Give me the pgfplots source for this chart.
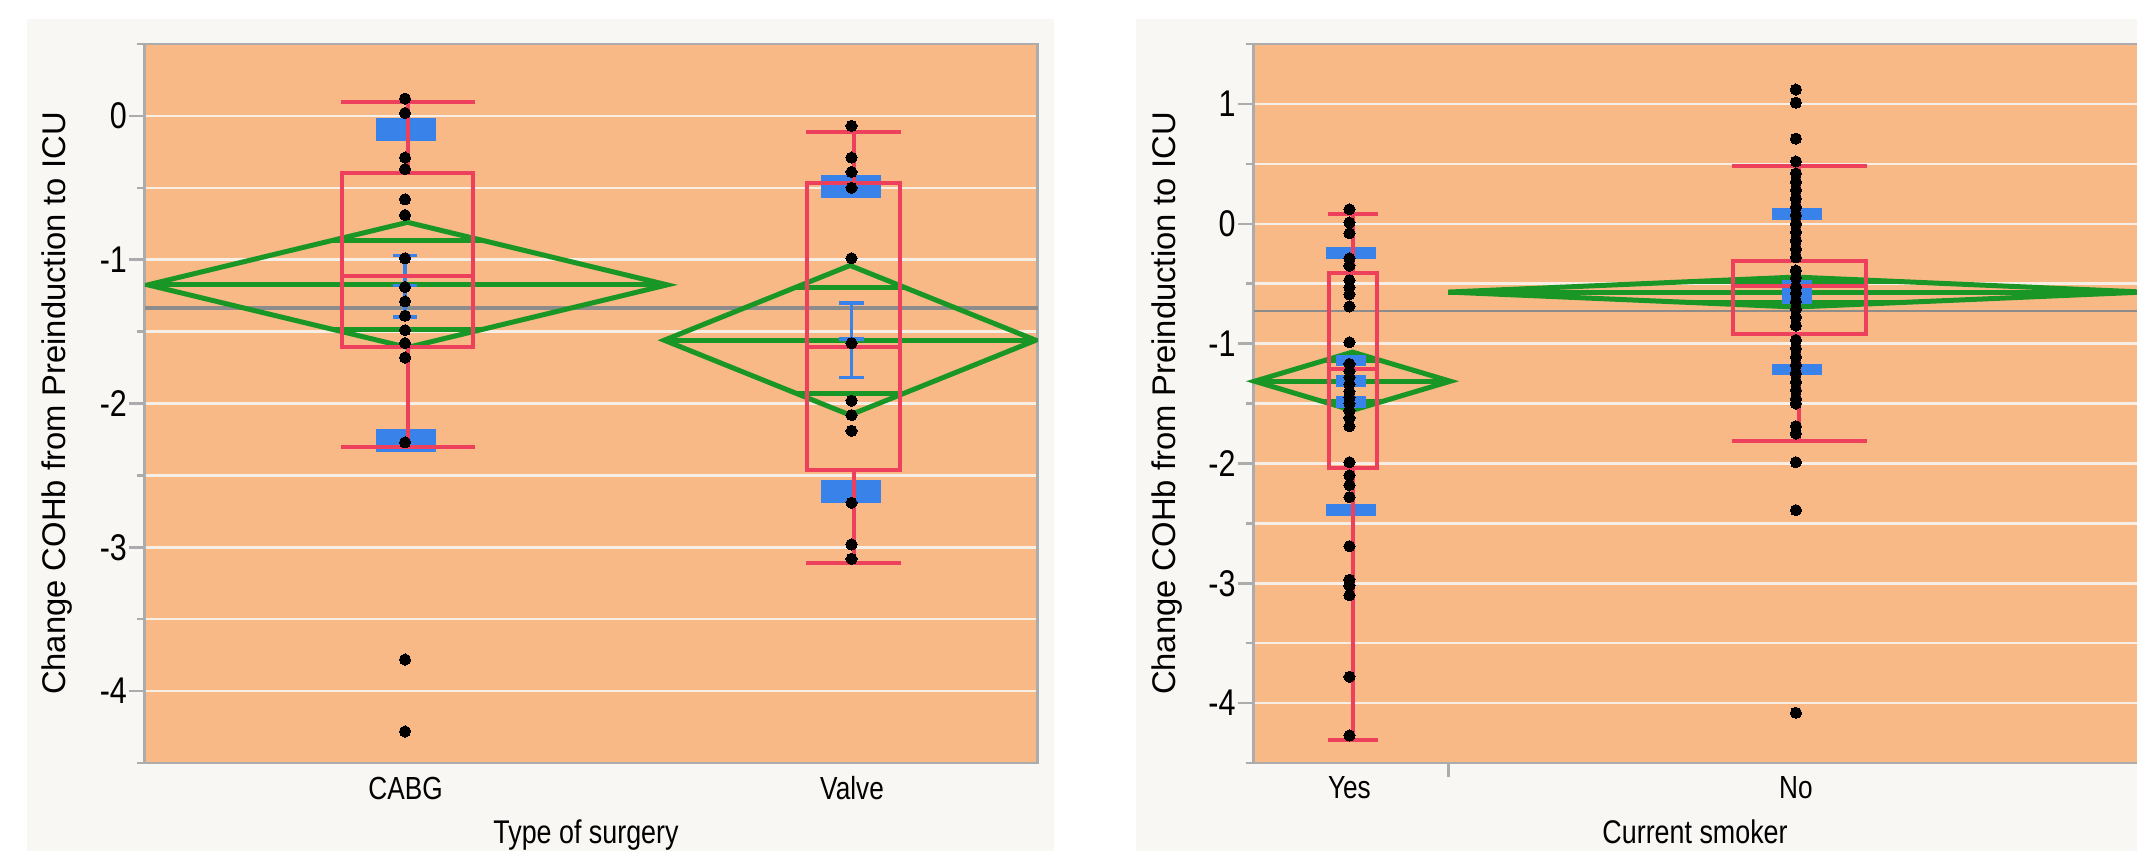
\documentclass[border=0pt]{standalone}
\usepackage{pgfplots}
\pgfplotsset{compat=1.18}
\usepackage{fontspec}
\setmainfont{Liberation Sans}[FakeStretch=0.82]
\newfontfamily\ylabfont{Liberation Sans}
\definecolor{panelbg}{RGB}{248,247,243}
\definecolor{plotbg}{RGB}{249,185,135}
\definecolor{gridc}{RGB}{247,238,230}
\definecolor{framec}{RGB}{172,172,172}
\definecolor{meanc}{RGB}{140,140,140}
\definecolor{jgreen}{RGB}{26,150,38}
\definecolor{jred}{RGB}{236,64,92}
\definecolor{jblue}{RGB}{56,130,234}
\pgfplotsset{
  jmp/.style={
    scale only axis, anchor=south west,
    height=180pt,
    ymin=-4.5,
    axis background/.style={fill=plotbg},
    axis line style={-, framec, line width=0.7pt},
    tick align=outside,
    ytick pos=left, xtick pos=bottom,
    ymajorgrids, yminorgrids,
    major grid style={gridc, line width=0.6pt},
    minor grid style={gridc, line width=0.6pt},
    major tick length=4pt, minor tick length=2pt,
    ytick style={framec, line width=0.6pt},
    xtick style={draw=none},
    yticklabel style={font=\fontsize{9.3}{10}\selectfont, inner sep=0.3pt},
    xticklabel style={font=\fontsize{8}{9}\selectfont, inner sep=0pt, yshift=0.8pt},
    xlabel style={font=\fontsize{8.2}{9}\selectfont, anchor=base, inner sep=0pt},
    ylabel style={font=\ylabfont\fontsize{8.2}{9}\selectfont, at={(axis description cs:-0.0884,0.5)}, anchor=base, inner sep=0pt},
  },
  grn/.style={jgreen, line width=1.25pt},
  rd/.style={jred, line width=1pt},
  pts/.style={only marks, mark=*, mark size=1.4pt, mark options={fill=black, draw=black, line width=0pt}},
}
\begin{document}
\begin{tikzpicture}[x=0.25pt,y=0.25pt]
\fill[white] (0,0) rectangle (2139,852);
\fill[panelbg] (27,0) rectangle (1055,833);
\fill[panelbg] (1137,0) rectangle (2139,833);

% ---------------- left panel ----------------
\begin{axis}[jmp, at={(36.25pt,22pt)}, width=223.5pt,
  xmin=145, xmax=1039, ymax=0.5,
  ytick={-4,-3,-2,-1,0}, yticklabels={-4,-3,-2,-1,0},
  minor ytick={-4.5,-3.5,-2.5,-1.5,-0.5,0.5},
  xtick={406,853}, xticklabels={CABG,Valve},
  xlabel={Type of surgery}, ylabel={Change COHb from Preinduction to ICU},
  xlabel style={at={(axis description cs:0.494,-0.112)}},
]
\addplot[meanc, line width=1pt] coordinates {(145,-1.336) (1039,-1.336)};
% diamonds
\addplot[grn] coordinates {(148,-1.175) (408,-0.74) (668,-1.175) (408,-1.61)} -- cycle;
\addplot[grn] coordinates {(148,-1.175) (668,-1.175)};
\addplot[grn] coordinates {(332,-0.867) (484,-0.867)};
\addplot[grn] coordinates {(332,-1.483) (484,-1.483)};
\addplot[grn] coordinates {(665,-1.56) (851,-1.04) (1037,-1.56) (851,-2.08)} -- cycle;
\addplot[grn] coordinates {(665,-1.56) (1037,-1.56)};
\addplot[grn] coordinates {(796.5,-1.192) (905.5,-1.192)};
\addplot[grn] coordinates {(796.5,-1.928) (905.5,-1.928)};
% std dev bars
\addplot[jblue, line width=5.75pt] coordinates {(376,-0.093) (436,-0.093)};
\addplot[jblue, line width=5.75pt] coordinates {(376,-2.257) (436,-2.257)};
\addplot[jblue, line width=5.75pt] coordinates {(822,-0.493) (882,-0.493)};
\addplot[jblue, line width=5.75pt] coordinates {(822,-2.61) (882,-2.61)};
% mean error bars
\addplot[jblue, line width=0.9pt] coordinates {(405.5,-0.97) (405.5,-1.40)};
\addplot[jblue, line width=0.9pt] coordinates {(393.5,-0.97) (417.5,-0.97)};
\addplot[jblue, line width=0.9pt] coordinates {(393.5,-1.40) (417.5,-1.40)};
\addplot[jblue, line width=0.9pt] coordinates {(393.5,-1.18) (417.5,-1.18)};
\addplot[jblue, line width=0.9pt] coordinates {(852.5,-1.30) (852.5,-1.82)};
\addplot[jblue, line width=0.9pt] coordinates {(840,-1.30) (865,-1.30)};
\addplot[jblue, line width=0.9pt] coordinates {(840,-1.82) (865,-1.82)};
\addplot[jblue, line width=0.9pt] coordinates {(840,-1.55) (865,-1.55)};
% box plots
\addplot[rd] coordinates {(342,-0.40) (474,-0.40) (474,-1.61) (342,-1.61)} -- cycle;
\addplot[rd] coordinates {(342,-1.116) (474,-1.116)};
\addplot[rd] coordinates {(408,-0.40) (408,0.095)};
\addplot[rd] coordinates {(408,-1.61) (408,-2.30)};
\addplot[rd] coordinates {(341,0.095) (476,0.095)};
\addplot[rd] coordinates {(341,-2.30) (476,-2.30)};
\addplot[rd] coordinates {(808,-0.468) (901,-0.468) (901,-2.463) (808,-2.463)} -- cycle;
\addplot[rd] coordinates {(808,-1.609) (901,-1.609)};
\addplot[rd] coordinates {(855,-0.468) (855,-0.113)};
\addplot[rd] coordinates {(855,-2.463) (855,-3.111)};
\addplot[rd] coordinates {(807,-0.113) (902,-0.113)};
\addplot[rd] coordinates {(807,-3.111) (902,-3.111)};
% points
\addplot[pts] coordinates {(405.5,0.12) (405.5,0.02) (405.5,-0.29) (405.5,-0.37) (405.5,-0.58) (405.5,-0.69) (405.5,-0.99) (405.5,-1.19) (405.5,-1.29) (405.5,-1.39) (405.5,-1.49) (405.5,-1.58) (405.5,-1.68) (405.5,-2.27) (405.5,-3.78) (405.5,-4.28)};
\addplot[pts] coordinates {(852.5,-0.07) (852.5,-0.29) (852.5,-0.39) (852.5,-0.50) (852.5,-0.99) (852.5,-1.58) (852.5,-1.98) (852.5,-2.08) (852.5,-2.19) (852.5,-2.69) (852.5,-2.98) (852.5,-3.08)};
\end{axis}

% ---------------- right panel ----------------
\begin{axis}[jmp, at={(313.75pt,22pt)}, width=221pt,
  xmin=1255, xmax=2139, ymax=1.5,
  axis lines*=left, clip=false,
  ytick={-4,-3,-2,-1,0,1}, yticklabels={-4,-3,-2,-1,0,1},
  minor ytick={-4.5,-3.5,-2.5,-1.5,-0.5,0.5,1.5},
  xtick={1351,1798}, xticklabels={Yes,No},
  extra x ticks={1450}, extra x tick labels={{}},
  extra x tick style={xtick style={draw=framec, line width=0.6pt}, major tick length=3.5pt},
  xlabel={Current smoker}, ylabel={Change COHb from Preinduction to ICU},
  xlabel style={at={(axis description cs:0.5,-0.112)}},
]
\draw[framec, line width=0.7pt] (rel axis cs:0,1) -- (rel axis cs:1,1);
\addplot[meanc, line width=0.55pt] coordinates {(1255,-0.729) (2139,-0.729)};
% diamonds
\addplot[grn] coordinates {(1256,-1.314) (1354,-1.071) (1452,-1.314) (1354,-1.557)} -- cycle;
\addplot[grn] coordinates {(1256,-1.314) (1452,-1.314)};
\addplot[grn] coordinates {(1325,-1.142) (1383,-1.142)};
\addplot[grn] coordinates {(1325,-1.486) (1383,-1.486)};
\addplot[grn] coordinates {(2139,-0.5675) (1798,-0.445) (1450,-0.57) (1798,-0.695) (2139,-0.5725)};
\addplot[grn] coordinates {(1450,-0.57) (2139,-0.57)};
\addplot[grn] coordinates {(1696,-0.482) (1900,-0.482)};
\addplot[grn] coordinates {(1696,-0.658) (1900,-0.658)};
% std dev bars
\addplot[jblue, line width=2.9pt] coordinates {(1328,-0.243) (1378,-0.243)};
\addplot[jblue, line width=2.9pt] coordinates {(1328,-2.39) (1378,-2.39)};
\addplot[jblue, line width=2.9pt] coordinates {(1774,0.083) (1824,0.083)};
\addplot[jblue, line width=2.9pt] coordinates {(1774,-1.217) (1824,-1.217)};
% mean error bars
\addplot[jblue, line width=0.9pt] coordinates {(1353,-1.14) (1353,-1.487)};
\addplot[jblue, line width=2.9pt] coordinates {(1338,-1.14) (1368,-1.14)};
\addplot[jblue, line width=2.9pt] coordinates {(1338,-1.314) (1368,-1.314)};
\addplot[jblue, line width=2.9pt] coordinates {(1338,-1.487) (1368,-1.487)};
\addplot[jblue, line width=2.9pt] coordinates {(1784,-0.52) (1814,-0.52)};
\addplot[jblue, line width=2.9pt] coordinates {(1784,-0.57) (1814,-0.57)};
\addplot[jblue, line width=2.9pt] coordinates {(1784,-0.62) (1814,-0.62)};
% box plots
\addplot[rd] coordinates {(1331,-0.41) (1379,-0.41) (1379,-2.035) (1331,-2.035)} -- cycle;
\addplot[rd] coordinates {(1331,-1.21) (1379,-1.21)};
\addplot[rd] coordinates {(1355,-0.41) (1355,0.083)};
\addplot[rd] coordinates {(1355,-2.035) (1355,-4.31)};
\addplot[rd] coordinates {(1330,0.083) (1380,0.083)};
\addplot[rd] coordinates {(1330,-4.31) (1380,-4.31)};
\addplot[rd] coordinates {(1735,-0.311) (1868,-0.311) (1868,-0.922) (1735,-0.922)} -- cycle;
\addplot[rd] coordinates {(1735,-0.52) (1868,-0.52)};
\addplot[rd] coordinates {(1801,-0.311) (1801,0.483)};
\addplot[rd] coordinates {(1801,-0.922) (1801,-1.814)};
\addplot[rd] coordinates {(1734,0.483) (1869,0.483)};
\addplot[rd] coordinates {(1734,-1.814) (1869,-1.814)};
% points
\addplot[pts] coordinates {(1351,0.12) (1351,0.01) (1351,-0.08) (1351,-0.29) (1351,-0.35) (1351,-0.47) (1351,-0.53) (1351,-0.59) (1351,-0.69) (1351,-0.99) (1351,-1.17) (1351,-1.23) (1351,-1.28) (1351,-1.34) (1351,-1.40) (1351,-1.45) (1351,-1.50) (1351,-1.56) (1351,-1.62) (1351,-1.69) (1351,-1.99) (1351,-2.10) (1351,-2.18) (1351,-2.28) (1351,-2.69) (1351,-2.97) (1351,-3.02) (1351,-3.10) (1351,-3.78) (1351,-4.27)};
\addplot[pts] coordinates {(1798,1.12) (1798,1.01) (1798,0.71) (1798,0.52) (1798,0.42) (1798,0.35) (1798,0.28) (1798,0.21) (1798,0.14) (1798,0.07) (1798,0.00) (1798,-0.07) (1798,-0.14) (1798,-0.21) (1798,-0.28) (1798,-0.39) (1798,-0.45) (1798,-0.53) (1798,-0.58) (1798,-0.65) (1798,-0.71) (1798,-0.78) (1798,-0.85) (1798,-0.97) (1798,-1.04) (1798,-1.11) (1798,-1.18) (1798,-1.25) (1798,-1.32) (1798,-1.39) (1798,-1.46) (1798,-1.50) (1798,-1.69) (1798,-1.75) (1798,-1.99) (1798,-2.39) (1798,-4.08)};
\end{axis}
\end{tikzpicture}
\end{document}
